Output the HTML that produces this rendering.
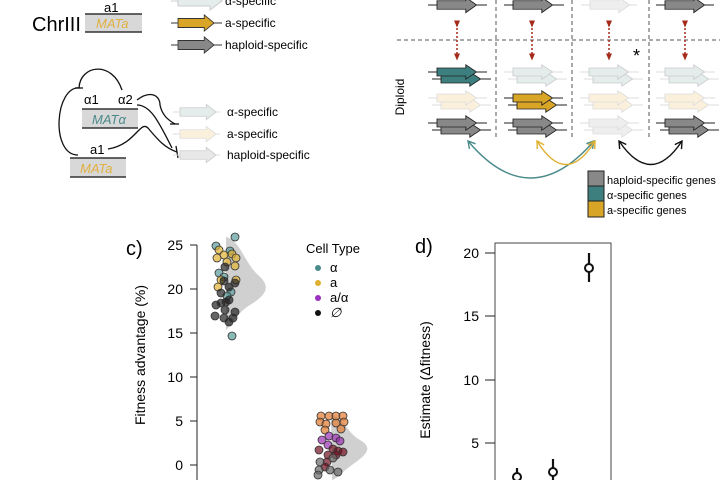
<!DOCTYPE html>
<html><head><meta charset="utf-8"><style>
html,body{margin:0;padding:0;background:#fff;}
svg{display:block;font-family:"Liberation Sans",sans-serif;}
</style></head><body>
<svg width="720" height="480" viewBox="0 0 720 480" xmlns="http://www.w3.org/2000/svg">
<defs>
<g id="arr"><path d="M0,-5 H32 V-9 L44,0 L32,9 V5 H0 Z"/></g>
<marker id="ra" markerUnits="userSpaceOnUse" markerWidth="7" markerHeight="7" refX="3.5" refY="3.5" orient="auto"><path d="M0,0.5 L7,3.5 L0,6.5 Z" fill="#a52a1a"/></marker>
<marker id="mt" markerUnits="userSpaceOnUse" markerWidth="10" markerHeight="10" refX="8" refY="5" orient="auto"><path d="M1,1 L8,5 L1,9" fill="none" stroke="#4a8a8a" stroke-width="1.4"/></marker>
<marker id="mg" markerUnits="userSpaceOnUse" markerWidth="10" markerHeight="10" refX="8" refY="5" orient="auto"><path d="M1,1 L8,5 L1,9" fill="none" stroke="#e0b030" stroke-width="1.4"/></marker>
<marker id="mk" markerUnits="userSpaceOnUse" markerWidth="10" markerHeight="10" refX="8" refY="5" orient="auto"><path d="M1,1 L8,5 L1,9" fill="none" stroke="#111" stroke-width="1.4"/></marker>
<marker id="mts" markerUnits="userSpaceOnUse" markerWidth="10" markerHeight="10" refX="2" refY="5" orient="auto"><path d="M9,1 L2,5 L9,9" fill="none" stroke="#4a8a8a" stroke-width="1.4"/></marker>
<marker id="mgs" markerUnits="userSpaceOnUse" markerWidth="10" markerHeight="10" refX="2" refY="5" orient="auto"><path d="M9,1 L2,5 L9,9" fill="none" stroke="#e0b030" stroke-width="1.4"/></marker>
<marker id="mks" markerUnits="userSpaceOnUse" markerWidth="10" markerHeight="10" refX="2" refY="5" orient="auto"><path d="M9,1 L2,5 L9,9" fill="none" stroke="#111" stroke-width="1.4"/></marker>
</defs>

<!-- panel a top -->
<text x="104" y="12" font-size="13">a1</text>
<text x="32" y="31" font-size="20">ChrIII</text>
<rect x="85" y="14" width="57" height="18" fill="#d8d8d8"/>
<line x1="85" y1="14" x2="142" y2="14" stroke="#333" stroke-width="1.5"/>
<line x1="85" y1="32" x2="142" y2="32" stroke="#333" stroke-width="1.5"/>
<text x="96" y="28" font-size="13" font-style="italic" fill="#e0b040">MATa</text>
<line x1="171" y1="1" x2="222" y2="1" stroke="#ccc"/>
<use href="#arr" x="178" y="1" fill="#e4ecec" stroke="#ccc"/>
<text x="225" y="5" font-size="12">α-specific</text>
<line x1="171" y1="23" x2="222" y2="23" stroke="#333"/>
<g transform="translate(178,23) scale(0.82,0.9)"><use href="#arr" fill="#d9a526" stroke="#333"/></g>
<text x="225" y="27" font-size="12">a-specific</text>
<line x1="171" y1="45" x2="222" y2="45" stroke="#333"/>
<g transform="translate(178,45) scale(0.82,0.9)"><use href="#arr" fill="#888" stroke="#333"/></g>
<text x="225" y="49" font-size="12">haploid-specific</text>

<!-- panel a bottom -->
<text x="84" y="104" font-size="13">α1</text>
<text x="118" y="104" font-size="13">α2</text>
<rect x="82" y="109" width="56" height="19" fill="#d8d8d8"/>
<line x1="82" y1="109" x2="138" y2="109" stroke="#333" stroke-width="1.5"/>
<line x1="82" y1="128" x2="138" y2="128" stroke="#333" stroke-width="1.5"/>
<text x="92" y="124" font-size="13" font-style="italic" fill="#4a8a8a">MATα</text>
<text x="90" y="154" font-size="13">a1</text>
<rect x="70" y="158" width="56" height="19" fill="#d8d8d8"/>
<line x1="70" y1="158" x2="126" y2="158" stroke="#333" stroke-width="1.5"/>
<line x1="70" y1="177" x2="126" y2="177" stroke="#333" stroke-width="1.5"/>
<text x="80" y="173" font-size="13" font-style="italic" fill="#e0b040">MATa</text>
<g fill="none" stroke="#111" stroke-width="1.3">
<path d="M122,90 C112,60 80,65 79,88"/>
<path d="M75,88 L83,88"/>
<path d="M78,155 C50,155 55,85 80,88"/>
<path d="M108,149 C135,145 140,120 148,128 C158,140 165,148 177,152"/>
<path d="M176,146 L178,158"/>
<path d="M137,100 C150,90 160,95 160,105 C162,115 168,120 175,124"/>
<path d="M170,124 L179,124"/>
<path d="M137,105 C150,105 158,120 172,148"/>
</g>
<line x1="173" y1="112" x2="220" y2="112" stroke="#ddd"/>
<g transform="translate(180,112) scale(0.82,0.85)"><use href="#arr" fill="#e4ecec" stroke="#ccc"/></g>
<text x="227" y="116" font-size="12">α-specific</text>
<line x1="173" y1="134" x2="220" y2="134" stroke="#ddd"/>
<g transform="translate(180,134) scale(0.82,0.85)"><use href="#arr" fill="#faf0dc" stroke="#ddd"/></g>
<text x="227" y="138" font-size="12">a-specific</text>
<line x1="173" y1="155" x2="220" y2="155" stroke="#ddd"/>
<g transform="translate(180,155) scale(0.82,0.85)"><use href="#arr" fill="#e8e8e8" stroke="#ccc"/></g>
<text x="227" y="159" font-size="12">haploid-specific</text>

<!-- panel b -->
<g stroke="#555" stroke-dasharray="4,3" stroke-width="1">
<line x1="397" y1="40" x2="720" y2="40"/>
<line x1="496" y1="0" x2="496" y2="140"/>
<line x1="572" y1="0" x2="572" y2="140"/>
<line x1="649" y1="0" x2="649" y2="140"/>
</g>
<g>
<line x1="428" y1="5" x2="487" y2="5" stroke="#222"/><g transform="translate(437,5) scale(0.9,0.85)"><use href="#arr" fill="#888" stroke="#222"/></g>
<line x1="504" y1="5" x2="564" y2="5" stroke="#222"/><g transform="translate(513,5) scale(0.9,0.85)"><use href="#arr" fill="#888" stroke="#222"/></g>
<line x1="581" y1="5" x2="637" y2="5" stroke="#ddd"/><g transform="translate(590,5) scale(0.9,0.85)"><use href="#arr" fill="#eee" stroke="#ddd"/></g>
<line x1="656" y1="5" x2="714" y2="5" stroke="#222"/><g transform="translate(665,5) scale(0.9,0.85)"><use href="#arr" fill="#888" stroke="#222"/></g>
</g>
<g stroke="#a52a1a" stroke-width="1.5" stroke-dasharray="2,2" marker-start="url(#ra)" marker-end="url(#ra)">
<line x1="457" y1="24" x2="457" y2="57"/>
<line x1="532" y1="24" x2="532" y2="57"/>
<line x1="609" y1="24" x2="609" y2="57"/>
<line x1="685" y1="24" x2="685" y2="57"/>
</g>
<text x="633" y="62" font-size="18">*</text>
<text transform="translate(404,97) rotate(-90)" font-size="12" text-anchor="middle">Diploid</text>
<g>
<line x1="428" y1="72" x2="487" y2="72" stroke="#222"/><line x1="432" y1="79" x2="491" y2="79" stroke="#222"/>
<g transform="translate(441,79) scale(0.9,0.8)"><use href="#arr" fill="#3d7f7f" stroke="#222"/></g>
<g transform="translate(437,72) scale(0.9,0.8)"><use href="#arr" fill="#3d7f7f" stroke="#222"/></g>
<line x1="428" y1="98" x2="487" y2="98" stroke="#ddd"/><line x1="432" y1="105" x2="491" y2="105" stroke="#ddd"/>
<g transform="translate(441,105) scale(0.9,0.8)"><use href="#arr" fill="#faf0dc" stroke="#ddd"/></g>
<g transform="translate(437,98) scale(0.9,0.8)"><use href="#arr" fill="#faf0dc" stroke="#ddd"/></g>
<line x1="428" y1="123" x2="487" y2="123" stroke="#222"/><line x1="432" y1="130" x2="491" y2="130" stroke="#222"/>
<g transform="translate(441,130) scale(0.9,0.8)"><use href="#arr" fill="#888" stroke="#222"/></g>
<g transform="translate(437,123) scale(0.9,0.8)"><use href="#arr" fill="#888" stroke="#222"/></g>
<line x1="504" y1="72" x2="563" y2="72" stroke="#ddd"/><line x1="508" y1="79" x2="567" y2="79" stroke="#ddd"/>
<g transform="translate(517,79) scale(0.9,0.8)"><use href="#arr" fill="#e4ecec" stroke="#ccc"/></g>
<g transform="translate(513,72) scale(0.9,0.8)"><use href="#arr" fill="#e4ecec" stroke="#ccc"/></g>
<line x1="504" y1="98" x2="563" y2="98" stroke="#222"/><line x1="508" y1="105" x2="567" y2="105" stroke="#222"/>
<g transform="translate(517,105) scale(0.9,0.8)"><use href="#arr" fill="#d9a526" stroke="#222"/></g>
<g transform="translate(513,98) scale(0.9,0.8)"><use href="#arr" fill="#d9a526" stroke="#222"/></g>
<line x1="504" y1="123" x2="563" y2="123" stroke="#222"/><line x1="508" y1="130" x2="567" y2="130" stroke="#222"/>
<g transform="translate(517,130) scale(0.9,0.8)"><use href="#arr" fill="#888" stroke="#222"/></g>
<g transform="translate(513,123) scale(0.9,0.8)"><use href="#arr" fill="#888" stroke="#222"/></g>
<line x1="580" y1="72" x2="639" y2="72" stroke="#ddd"/><line x1="584" y1="79" x2="643" y2="79" stroke="#ddd"/>
<g transform="translate(593,79) scale(0.9,0.8)"><use href="#arr" fill="#e4ecec" stroke="#ccc"/></g>
<g transform="translate(589,72) scale(0.9,0.8)"><use href="#arr" fill="#e4ecec" stroke="#ccc"/></g>
<line x1="580" y1="98" x2="639" y2="98" stroke="#ddd"/><line x1="584" y1="105" x2="643" y2="105" stroke="#ddd"/>
<g transform="translate(593,105) scale(0.9,0.8)"><use href="#arr" fill="#faf0dc" stroke="#ddd"/></g>
<g transform="translate(589,98) scale(0.9,0.8)"><use href="#arr" fill="#faf0dc" stroke="#ddd"/></g>
<line x1="580" y1="123" x2="639" y2="123" stroke="#ddd"/><line x1="584" y1="130" x2="643" y2="130" stroke="#ddd"/>
<g transform="translate(593,130) scale(0.9,0.8)"><use href="#arr" fill="#eee" stroke="#ddd"/></g>
<g transform="translate(589,123) scale(0.9,0.8)"><use href="#arr" fill="#eee" stroke="#ddd"/></g>
<line x1="656" y1="72" x2="715" y2="72" stroke="#ddd"/><line x1="660" y1="79" x2="719" y2="79" stroke="#ddd"/>
<g transform="translate(669,79) scale(0.9,0.8)"><use href="#arr" fill="#e4ecec" stroke="#ccc"/></g>
<g transform="translate(665,72) scale(0.9,0.8)"><use href="#arr" fill="#e4ecec" stroke="#ccc"/></g>
<line x1="656" y1="98" x2="715" y2="98" stroke="#ddd"/><line x1="660" y1="105" x2="719" y2="105" stroke="#ddd"/>
<g transform="translate(669,105) scale(0.9,0.8)"><use href="#arr" fill="#faf0dc" stroke="#ddd"/></g>
<g transform="translate(665,98) scale(0.9,0.8)"><use href="#arr" fill="#faf0dc" stroke="#ddd"/></g>
<line x1="656" y1="123" x2="715" y2="123" stroke="#222"/><line x1="660" y1="130" x2="719" y2="130" stroke="#222"/>
<g transform="translate(669,130) scale(0.9,0.8)"><use href="#arr" fill="#888" stroke="#222"/></g>
<g transform="translate(665,123) scale(0.9,0.8)"><use href="#arr" fill="#888" stroke="#222"/></g>
</g>
<path d="M468,141 Q530,215 594,141" fill="none" stroke="#4a8a8a" stroke-width="1.4" marker-start="url(#mts)" marker-end="url(#mt)"/>
<path d="M537,141 Q566,188 595,141" fill="none" stroke="#e0b030" stroke-width="1.4" marker-start="url(#mgs)" marker-end="url(#mg)"/>
<path d="M619,141 Q651,188 682,141" fill="none" stroke="#111" stroke-width="1.4" marker-start="url(#mks)" marker-end="url(#mk)"/>
<rect x="588" y="171" width="16" height="15" fill="#888" stroke="#222"/>
<rect x="588" y="186" width="16" height="15" fill="#3d7f7f" stroke="#222"/>
<rect x="588" y="201" width="16" height="16" fill="#d9a526" stroke="#222"/>
<text x="607" y="184" font-size="11">haploid-specific genes</text>
<text x="607" y="199" font-size="11">α-specific genes</text>
<text x="607" y="214" font-size="11">a-specific genes</text>

<!-- panel c -->
<text x="126" y="255" font-size="20">c)</text>
<line x1="197" y1="245" x2="197" y2="480" stroke="#222"/>
<g stroke="#222">
<line x1="190" y1="245" x2="197" y2="245"/><line x1="190" y1="289" x2="197" y2="289"/>
<line x1="190" y1="333" x2="197" y2="333"/><line x1="190" y1="377" x2="197" y2="377"/>
<line x1="190" y1="421" x2="197" y2="421"/><line x1="190" y1="465" x2="197" y2="465"/>
</g>
<g font-size="14" text-anchor="end">
<text x="183" y="250">25</text><text x="183" y="294">20</text><text x="183" y="338">15</text>
<text x="183" y="382">10</text><text x="183" y="426">5</text><text x="183" y="470">0</text>
</g>
<text transform="translate(145,355) rotate(-90)" font-size="14" text-anchor="middle">Fitness advantage (%)</text>
<path d="M226,237 C240,240 244,262 258,275 C272,287 266,295 250,305 C238,312 232,325 226,330 Z" fill="#d0d0d0"/>
<path d="M331,415 C345,418 346,432 360,440 C374,448 366,455 352,465 C342,472 338,478 332,480 Z" fill="#d0d0d0"/>
<g stroke="#333" stroke-width="0.8" fill-opacity="0.7">
<g fill="#5a9a9a"><circle cx="216" cy="246" r="4"/><circle cx="235" cy="237" r="4"/><circle cx="230" cy="251" r="4"/><circle cx="219" cy="273" r="4"/><circle cx="231" cy="292" r="4"/><circle cx="232" cy="336" r="4"/><circle cx="224" cy="277" r="4"/><circle cx="227" cy="296" r="4"/></g>
<g fill="#e0b030"><circle cx="219" cy="250" r="4"/><circle cx="224" cy="255" r="4"/><circle cx="232" cy="254" r="4"/><circle cx="227" cy="262" r="4"/><circle cx="217" cy="258" r="4"/><circle cx="236" cy="258" r="4"/><circle cx="235" cy="266" r="4"/><circle cx="221" cy="280" r="4"/><circle cx="218" cy="287" r="4"/><circle cx="236" cy="280" r="4"/></g>
<g fill="#222"><circle cx="225" cy="267" r="4"/><circle cx="224" cy="281" r="4"/><circle cx="235" cy="283" r="4"/><circle cx="229" cy="287" r="4"/><circle cx="221" cy="293" r="4"/><circle cx="229" cy="300" r="4"/><circle cx="216" cy="305" r="4"/><circle cx="221" cy="303" r="4"/><circle cx="226" cy="302" r="4"/><circle cx="225" cy="310" r="4"/><circle cx="215" cy="316" r="4"/><circle cx="235" cy="312" r="4"/><circle cx="233" cy="318" r="4"/><circle cx="224" cy="318" r="4"/><circle cx="229" cy="322" r="4"/></g>
<g fill="#e07a30"><circle cx="321" cy="416" r="4"/><circle cx="329" cy="416" r="4"/><circle cx="336" cy="416" r="4"/><circle cx="343" cy="416" r="4"/><circle cx="320" cy="422" r="4"/><circle cx="326" cy="424" r="4"/><circle cx="336" cy="423" r="4"/><circle cx="344" cy="422" r="4"/><circle cx="325" cy="430" r="4"/><circle cx="341" cy="429" r="4"/></g>
<g fill="#9a30b0"><circle cx="322" cy="440" r="4"/><circle cx="329" cy="436" r="4"/><circle cx="336" cy="438" r="4"/><circle cx="340" cy="441" r="4"/><circle cx="328" cy="445" r="4"/></g>
<g fill="#701020"><circle cx="319" cy="450" r="4"/><circle cx="333" cy="449" r="4"/><circle cx="338" cy="451" r="4"/><circle cx="343" cy="452" r="4"/><circle cx="336" cy="455" r="4"/><circle cx="328" cy="455" r="4"/><circle cx="327" cy="462" r="4"/><circle cx="325" cy="467" r="4"/></g>
<g fill="#666"><circle cx="320" cy="462" r="4"/><circle cx="333" cy="458" r="4"/><circle cx="330" cy="470" r="4"/><circle cx="319" cy="470" r="4"/><circle cx="338" cy="472" r="4"/><circle cx="318" cy="475" r="4"/></g>
</g>
<text x="306" y="253" font-size="13">Cell Type</text>
<circle cx="318" cy="268" r="3" fill="#4a8a8a"/><text x="330" y="272" font-size="13">α</text>
<circle cx="318" cy="283" r="3" fill="#e0b030"/><text x="330" y="287" font-size="13">a</text>
<circle cx="318" cy="298" r="3" fill="#9a30c0"/><text x="330" y="302" font-size="13">a/α</text>
<circle cx="318" cy="313" r="3" fill="#111"/><text x="330" y="317" font-size="13" font-style="italic">∅</text>

<!-- panel d -->
<text x="415" y="253" font-size="20">d)</text>
<rect x="495" y="243" width="116" height="245" fill="none" stroke="#444"/>
<g stroke="#222">
<line x1="485" y1="253" x2="495" y2="253"/><line x1="485" y1="316" x2="495" y2="316"/>
<line x1="485" y1="380" x2="495" y2="380"/><line x1="485" y1="443" x2="495" y2="443"/>
</g>
<g font-size="14" text-anchor="end">
<text x="479" y="258">20</text><text x="479" y="321">15</text><text x="479" y="385">10</text><text x="479" y="448">5</text>
</g>
<text transform="translate(430,380) rotate(-90)" font-size="14" text-anchor="middle">Estimate (Δfitness)</text>
<g stroke="#111" stroke-width="2.2">
<line x1="517" y1="468" x2="517" y2="485"/><line x1="553" y1="459" x2="553" y2="485"/><line x1="589" y1="253" x2="589" y2="282"/>
</g>
<g fill="#fff" stroke="#111" stroke-width="2"><circle cx="517" cy="477" r="4"/><circle cx="553" cy="472" r="4"/><circle cx="589" cy="268" r="4"/></g>
</svg>
</body></html>
